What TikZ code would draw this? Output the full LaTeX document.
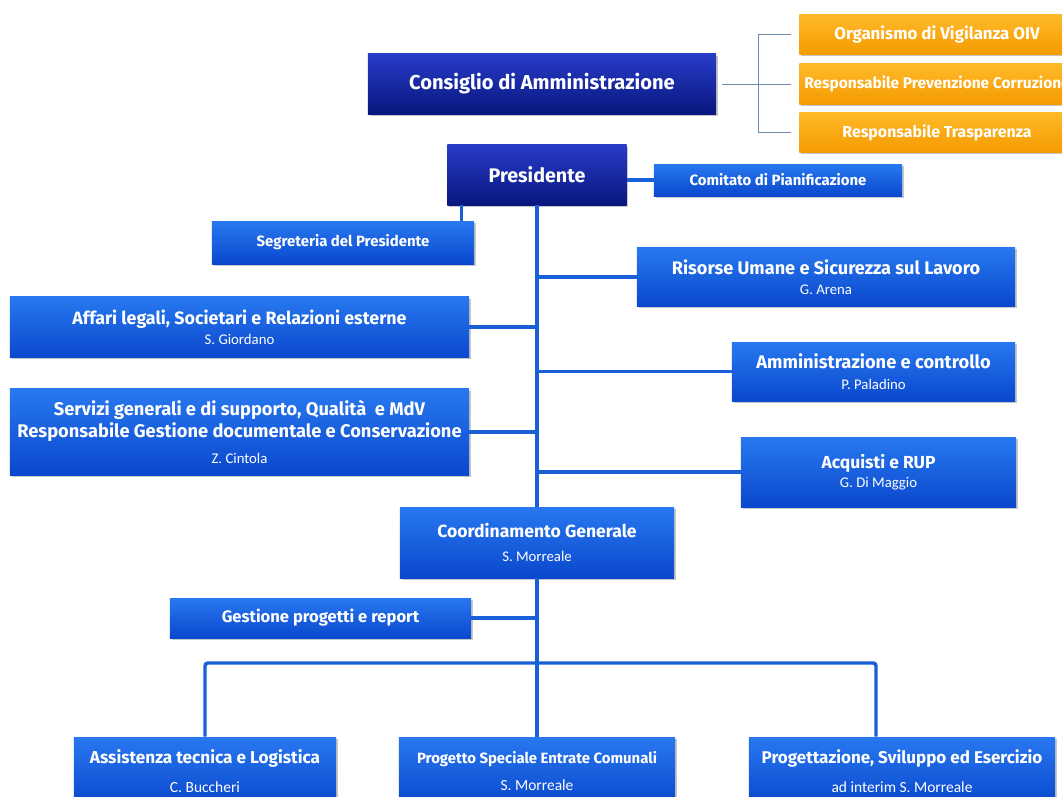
\documentclass[tikz,border=0pt]{standalone}
\usepackage{fontspec}
\setmainfont{Fira Sans}
\newfontfamily\namefont{Carlito}
\usetikzlibrary{positioning,shadows}
\definecolor{navytop}{RGB}{40,60,200}
\definecolor{navybot}{RGB}{8,22,125}
\definecolor{bluetop}{RGB}{40,120,240}
\definecolor{bluebot}{RGB}{10,72,205}
\definecolor{orangetop}{RGB}{255,185,40}
\definecolor{orangebot}{RGB}{245,155,0}
\definecolor{linkblue}{RGB}{25,95,215}
\definecolor{bracketgray}{RGB}{110,140,175}
\tikzset{
  unit/.style={text=white, align=center, inner sep=0pt,
    drop shadow={shadow xshift=1.2pt, shadow yshift=-1.2pt, opacity=0.45}},
  navybox/.style={unit, top color=navytop, bottom color=navybot},
  bluebox/.style={unit, top color=bluetop, bottom color=bluebot},
  orangebox/.style={unit, top color=orangetop, bottom color=orangebot},
  link/.style={draw=linkblue, line width=2.4pt},
  bracket/.style={draw=bracketgray, line width=0.6pt},
}
\newcommand{\ttl}[1]{\bfseries\fontsize{#1}{#1}\selectfont}
\newcommand{\who}[1]{{\namefont\mdseries\fontsize{10.5}{10.5}\selectfont #1}}
\newcommand{\whob}[1]{{\namefont\mdseries\fontsize{11}{11}\selectfont #1}}

\begin{document}
\begin{tikzpicture}[x=0.025cm,y=-0.025cm]
\useasboundingbox (0,0) rectangle (1062,796);
\clip (0,0) rectangle (1062,796);
% board and control bodies
\node[navybox, minimum width=8.7cm, minimum height=1.5cm, font=\ttl{14.3}] (cda) at (542,84) {Consiglio di Amministrazione};
\node[orangebox, minimum width=6.875cm, minimum height=0.975cm, font=\ttl{12}] (oiv) at (937,34.5) {Organismo di Vigilanza OIV};
\node[orangebox, minimum width=6.875cm, minimum height=1cm, font=\ttl{11}] (rpc) at (937,84) {Responsabile Prevenzione Corruzione};
\node[orangebox, minimum width=6.875cm, minimum height=0.975cm, font=\ttl{11.3}] (trasp) at (937,132.5) {Responsabile Trasparenza};
\draw[bracket] ([xshift=0.15cm]cda.east) -- ([xshift=-0.2cm]rpc.west);
\coordinate (brk) at (758,84);
\draw[bracket] ([xshift=-0.2cm]oiv.west) -| (brk) |- ([xshift=-0.2cm]trasp.west);

% president and staff
\node[navybox, minimum width=4.475cm, minimum height=1.5cm, font=\ttl{14}] (pres) at (537,175) {Presidente};
\node[bluebox, minimum width=6.2cm, minimum height=0.8cm, font=\ttl{10.6}] (comitato) at (778,180) {Comitato di Pianificazione};
\node[bluebox, minimum width=6.55cm, minimum height=1.075cm, font=\ttl{10.6}] (segr) at (343,242.5) {Segreteria del Presidente};
\draw[link] (comitato.west) -- (comitato.west -| pres.east);
\draw[link] ([xshift=0.35cm]pres.south west) -- ([xshift=0.35cm]pres.south west |- segr.north);

% offices
\node[bluebox, minimum width=9.45cm, minimum height=1.475cm, font=\ttl{12.9}] (risorse) at (826,277) {Risorse Umane e Sicurezza sul Lavoro\\[1.5pt]\who{G. Arena}};
\node[bluebox, minimum width=11.475cm, minimum height=1.5cm, font=\ttl{12.7}] (affari) at (239.5,327) {Affari legali, Societari e Relazioni esterne\\[1.5pt]\who{S. Giordano}};
\node[bluebox, minimum width=7.075cm, minimum height=1.475cm, font=\ttl{13}] (ammin) at (873.5,371.5) {Amministrazione e controllo\\[1.5pt]\who{P. Paladino}};
\node[bluebox, minimum width=11.475cm, minimum height=2.15cm, font=\ttl{13}] (servizi) at (239.5,432) {Servizi generali e di supporto, Qualità\ \ e MdV\\[1pt]Responsabile Gestione documentale e Conservazione\\[6pt]\who{Z. Cintola}};
\node[bluebox, minimum width=6.875cm, minimum height=1.75cm, font=\ttl{12.4}] (acquisti) at (878.5,472) {Acquisti e RUP\\[1.5pt]\who{G. Di Maggio}};

% general coordination
\node[bluebox, minimum width=6.85cm, minimum height=1.775cm, font=\ttl{12.5}] (coord) at (537,542.5) {Coordinamento Generale\\[5pt]\who{S. Morreale}};
\node[bluebox, minimum width=7.525cm, minimum height=1cm, font=\ttl{11.8}] (gestione) at (320.5,618) {Gestione progetti e report};
\node[bluebox, minimum width=6.55cm, minimum height=1.7cm, font=\ttl{12.2}] (assist) at (205,771) {Assistenza tecnica e Logistica\\[9pt]\whob{C. Buccheri}};
\node[bluebox, minimum width=6.9cm, minimum height=1.7cm, font=\ttl{10.6}] (progspec) at (537,771) {Progetto Speciale Entrate Comunali\\[8pt]\whob{S. Morreale}};
\node[bluebox, minimum width=7.65cm, minimum height=1.7cm, font=\ttl{12.1}] (progett) at (902,771) {Progettazione, Sviluppo ed Esercizio\\[9pt]\whob{ad interim S. Morreale}};

% links
\draw[link] (pres.south) -- (coord.north);
\foreach \u in {risorse,ammin,acquisti}
  \draw[link] (\u.west) -- (\u.west -| pres.south);
\foreach \u in {affari,servizi}
  \draw[link] (\u.east) -- (\u.east -| pres.south);
\draw[link] (gestione.east) -- (gestione.east -| coord.south);
\draw[link] (coord.south) -- (progspec.north);
\coordinate (bar) at (537,663);
\draw[link, rounded corners=2pt] (assist.north) |- (bar) -| ([xshift=-0.65cm]progett.north);
\end{tikzpicture}
\end{document}
